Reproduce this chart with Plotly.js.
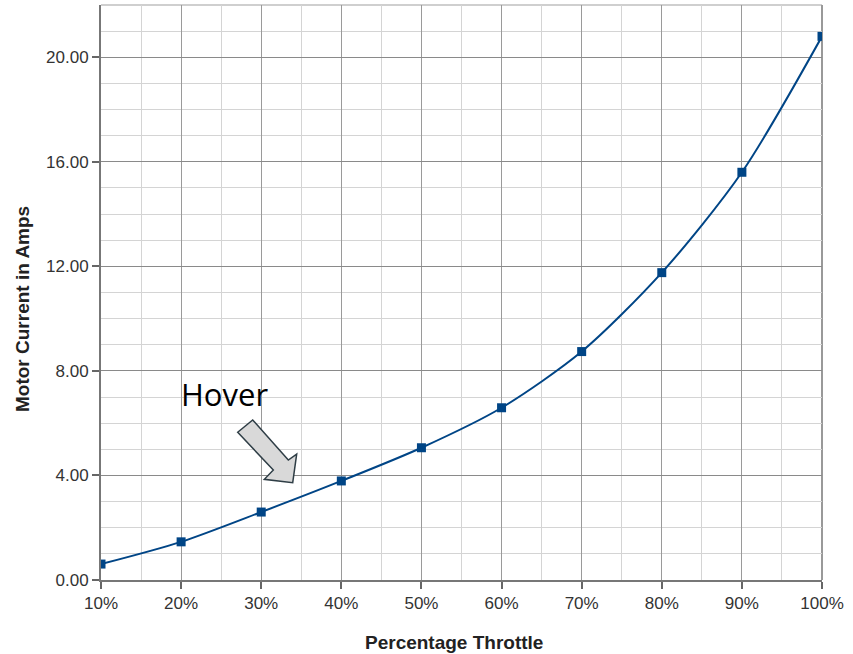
<!DOCTYPE html>
<html>
<head>
<meta charset="utf-8">
<script src="https://cdn.plot.ly/plotly-3.0.1.min.js"></script>
<style>html,body{margin:0;padding:0;background:#fff;}#chart{width:853px;height:654px;}</style>
</head>
<body>
<div id="chart"></div>
<script>
// Data
const throttlePct = [10, 20, 30, 40, 50, 60, 70, 80, 90, 100];
const motorAmps = [0.61, 1.46, 2.60, 3.79, 5.06, 6.59, 8.74, 11.76, 15.60, 20.80];
const xTitle = "Percentage Throttle";
const yTitle = "Motor Current in Amps";
const calloutText = "Hover";

const L = 101, R = 822, T = 5, B = 580;
function px(x) { return (x - L) / (R - L); }
function py(y) { return (B - y) / (B - T); }
const arrowPts = [[237.7,432.3],[273.3,470],[264.3,479.3],[292.7,482.7],[296.7,454],[288.3,460],[252.7,420]];
const arrowPath = arrowPts.map((p, i) => (i ? 'L' : 'M') + px(p[0]).toFixed(4) + ',' + py(p[1]).toFixed(4)).join(' ') + ' Z';

const trace = {
  x: throttlePct,
  y: motorAmps,
  type: 'scatter',
  mode: 'lines+markers',
  line: { color: '#004586', width: 2, shape: 'spline', smoothing: 0.8 },
  marker: { symbol: 'square', size: 9, color: '#004586' },
  hoverinfo: 'x+y'
};

const tickFont = { family: 'Liberation Sans, Arial, sans-serif', size: 17, color: '#333' };
const titleFont = { family: 'Liberation Sans, Arial, sans-serif', size: 19, color: '#222' };

const layout = {
  width: 853, height: 654,
  margin: { l: L, r: 853 - R, t: T, b: 654 - B },
  paper_bgcolor: '#fff', plot_bgcolor: '#fff',
  showlegend: false,
  xaxis: {
    range: [10, 100], tick0: 10, dtick: 10, ticksuffix: '%',
    showgrid: true, gridcolor: '#9a9a9a', gridwidth: 1.3,
    minor: { dtick: 5, tick0: 10, showgrid: true, gridcolor: '#d4d4d4', gridwidth: 1.3 },
    zeroline: false, showline: true, linecolor: '#777', linewidth: 2,
    ticks: 'outside', ticklen: 7, tickcolor: '#666', tickwidth: 2,
    tickfont: tickFont, automargin: false
  },
  yaxis: {
    range: [0, 22], tick0: 0, dtick: 4, tickformat: '.2f',
    showgrid: true, gridcolor: '#8a8a8a', gridwidth: 1.3,
    minor: { dtick: 1, showgrid: true, gridcolor: '#d4d4d4', gridwidth: 1.3 },
    zeroline: false, showline: true, linecolor: '#777', linewidth: 2,
    ticks: 'outside', ticklen: 7, tickcolor: '#666', tickwidth: 2,
    tickfont: tickFont, automargin: false
  },
  shapes: [
    { type: 'line', xref: 'paper', yref: 'paper', x0: 0, x1: 1, y0: 1, y1: 1, line: { color: '#cfcfcf', width: 2 }, layer: 'below' },
    { type: 'line', xref: 'paper', yref: 'paper', x0: 1, x1: 1, y0: 0, y1: 1, line: { color: '#999', width: 2 }, layer: 'below' },
    { type: 'path', xref: 'paper', yref: 'paper', path: arrowPath, fillcolor: '#d9d9d9', line: { color: '#2f3e46', width: 1.5 } }
  ],
  annotations: [
    { xref: 'paper', yref: 'paper', x: px(224), y: py(394), xanchor: 'center', yanchor: 'middle',
      text: calloutText, showarrow: false, font: { family: 'Open Sans, sans-serif', size: 31, color: '#000' } },
    { xref: 'paper', yref: 'paper', x: px(454), y: py(642), xanchor: 'center', yanchor: 'middle',
      text: '<b>' + xTitle + '</b>', showarrow: false, font: titleFont },
    { xref: 'paper', yref: 'paper', x: px(22), y: py(309), xanchor: 'center', yanchor: 'middle', textangle: -90,
      text: '<b>' + yTitle + '</b>', showarrow: false, font: titleFont }
  ]
};

Plotly.newPlot('chart', [trace], layout, { displayModeBar: false });
</script>
</body>
</html>
